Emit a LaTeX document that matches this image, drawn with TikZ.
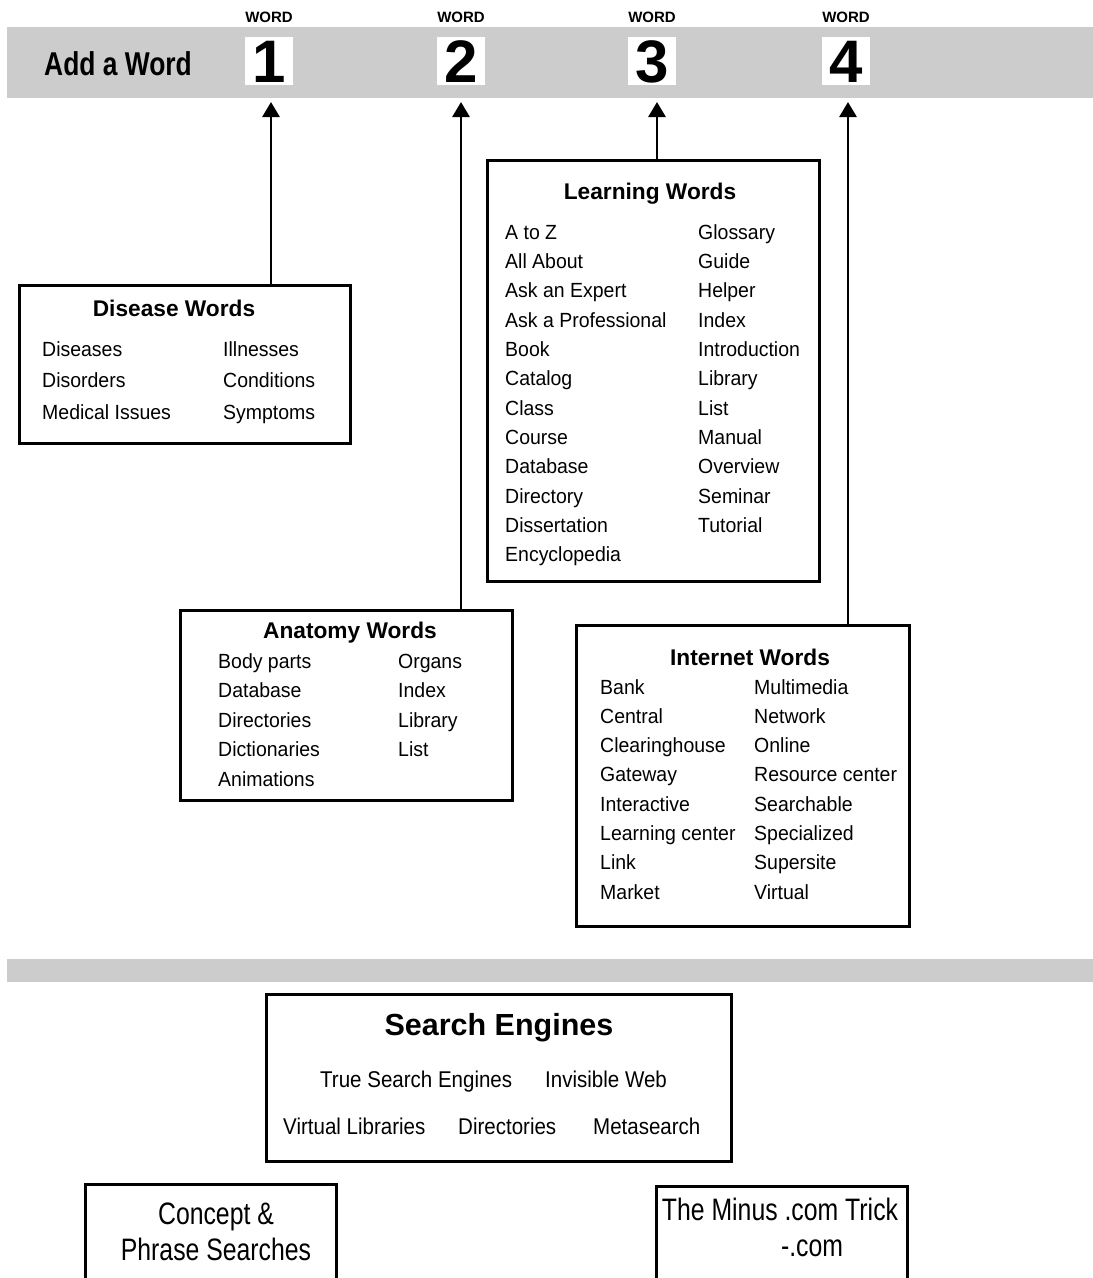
\documentclass[tikz,border=0pt]{standalone}
\usepackage{fontspec}
\setmainfont{Liberation Sans}
\newfontfamily\bodyfont{Liberation Sans}[FakeStretch=0.95]
\newfontfamily\midfont{Liberation Sans}[FakeStretch=0.9]
\newfontfamily\bigfont{Liberation Sans}[FakeStretch=0.8]
\usetikzlibrary{arrows.meta}
\definecolor{bandgray}{RGB}{204,204,204}
\tikzset{
  wbox/.style={draw=black, line width=2.8pt, rectangle, inner sep=0pt, anchor=north west},
  arr/.style={line width=2.8pt, -{Triangle[width=17pt,length=15pt]}},
  numbox/.style={fill=white, rectangle, inner sep=0pt, minimum width=48pt, minimum height=48pt,
     font=\bfseries\fontsize{60}{60}\selectfont, text height=43pt, text depth=0pt},
  wordlbl/.style={inner sep=0pt, anchor=base, font=\bfseries\fontsize{15}{15}\selectfont},
  ttl/.style={inner sep=0pt, anchor=base, font=\bfseries\fontsize{22.7}{22.7}\selectfont},
  item/.style={inner sep=0pt, anchor=base west, font=\bodyfont\fontsize{20.5}{20.5}\selectfont},
  sitem/.style={inner sep=0pt, anchor=base west, font=\midfont\fontsize{22.8}{22.8}\selectfont},
  bigtxt/.style={inner sep=0pt, anchor=base, font=\bigfont\fontsize{31}{31}\selectfont},
}
\begin{document}
\begin{tikzpicture}[x=1pt,y=-1pt]
\useasboundingbox (0,0) rectangle (1093,1278);
% gray bands
\fill[bandgray] (7,27) rectangle (1093,98);
\fill[bandgray] (7,959) rectangle (1093,982);
\node[inner sep=0pt, anchor=base west, font=\bigfont\bfseries\fontsize{33}{33}\selectfont] (add) at (44,75) {Add a Word};
% numbers
\foreach \i/\x in {1/269,2/461,3/652,4/846} {
  \node[numbox] (n\i) at (\x,61) {\i};
  \node[wordlbl] (w\i) at (\x,22) {WORD};
}
\coordinate (t1) at (271,102);
\coordinate (t2) at (461,102);
\coordinate (t3) at (657,102);
\coordinate (t4) at (848,102);
% Disease box
\node[wbox, minimum width=331pt, minimum height=158pt] (dis) at (18,284) {};
\node[ttl] (dist) at (174,316) {Disease Words};
\foreach \t [count=\k from 0] in {Diseases, Disorders, Medical Issues}
  \node[item] (da\k) at (42,356+\k*31.5) {\t};
\foreach \t [count=\k from 0] in {Illnesses, Conditions, Symptoms}
  \node[item] (db\k) at (223,356+\k*31.5) {\t};
\draw[arr] (dis.north -| t1) -- (t1);
% Learning box
\node[wbox, minimum width=332pt, minimum height=421pt] (lrn) at (486,159) {};
\node[ttl] (lrnt) at (650,199) {Learning Words};
\foreach \t [count=\k from 0] in {A to Z, All About, Ask an Expert, Ask a Professional, Book, Catalog, Class, Course, Database, Directory, Dissertation, Encyclopedia}
  \node[item] (la\k) at (505,239+\k*29.35) {\t};
\foreach \t [count=\k from 0] in {Glossary, Guide, Helper, Index, Introduction, Library, List, Manual, Overview, Seminar, Tutorial}
  \node[item] (lb\k) at (698,239+\k*29.35) {\t};
\draw[arr] (lrn.north -| t3) -- (t3);
% Anatomy box
\node[wbox, minimum width=332pt, minimum height=190pt] (ana) at (179,609) {};
\node[ttl] (anat) at (350,638) {Anatomy Words};
\foreach \t [count=\k from 0] in {Body parts, Database, Directories, Dictionaries, Animations}
  \node[item] (aa\k) at (218,668+\k*29.5) {\t};
\foreach \t [count=\k from 0] in {Organs, Index, Library, List}
  \node[item] (ab\k) at (398,668+\k*29.5) {\t};
\draw[arr] (ana.north -| t2) -- (t2);
% Internet box
\node[wbox, minimum width=333pt, minimum height=301pt] (int) at (575,624) {};
\node[ttl] (intt) at (750,665) {Internet Words};
\foreach \t [count=\k from 0] in {Bank, Central, Clearinghouse, Gateway, Interactive, Learning center, Link, Market}
  \node[item] (ia\k) at (600,694+\k*29.3) {\t};
\foreach \t [count=\k from 0] in {Multimedia, Network, Online, Resource center, Searchable, Specialized, Supersite, Virtual}
  \node[item] (ib\k) at (754,694+\k*29.3) {\t};
\draw[arr] (int.north -| t4) -- (t4);
% Search engines box
\node[wbox, minimum width=465pt, minimum height=167pt] (se) at (265,993) {};
\node[inner sep=0pt, anchor=base, font=\bfseries\fontsize{30.5}{30.5}\selectfont] (set) at (499,1035) {Search Engines};
\node[sitem] (s1) at (320,1087) {True Search Engines};
\node[sitem] (s2) at (545,1087) {Invisible Web};
\node[sitem] (s3) at (283,1134) {Virtual Libraries};
\node[sitem] (s4) at (458,1134) {Directories};
\node[sitem] (s5) at (593,1134) {Metasearch};
% bottom boxes (cut by page edge)
\node[wbox, minimum width=251pt, minimum height=130pt] (cp) at (84,1183) {};
\node[bigtxt] (cp1) at (216,1224) {Concept \&};
\node[bigtxt] (cp2) at (216,1260) {Phrase Searches};
\node[wbox, minimum width=251pt, minimum height=130pt] (mn) at (655,1185) {};
\node[bigtxt] (mn1) at (780,1220) {The Minus .com Trick};
\node[bigtxt] (mn2) at (812,1256) {-.com};
\end{tikzpicture}
\end{document}
